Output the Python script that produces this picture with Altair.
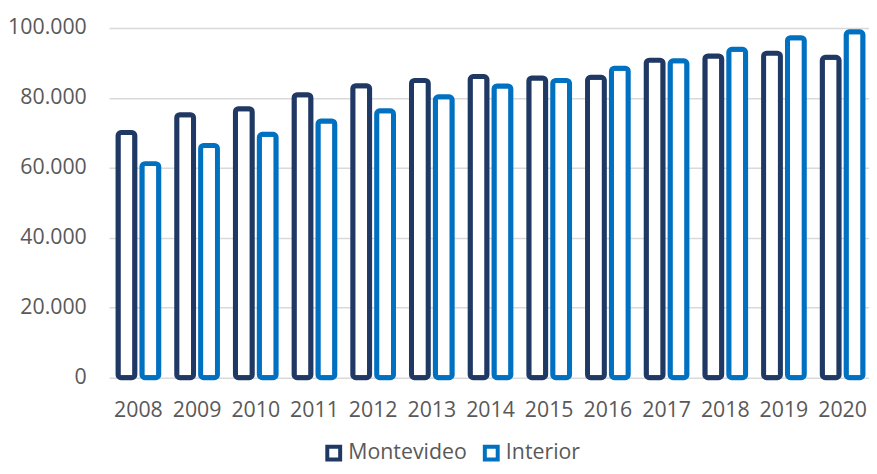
import altair as alt
import pandas as pd

years = [str(y) for y in range(2008, 2021)]
montevideo = [70100, 75200, 76900, 80900, 83500, 85000, 86100, 85700, 85900, 90800, 92000, 92800, 91600]
interior = [61200, 66400, 69600, 73400, 76300, 80300, 83400, 85000, 88500, 90600, 93900, 97200, 98900]
series = ["Montevideo", "Interior"]
colors = ["#1F3864", "#0070C0"]

rows = []
for i, y in enumerate(years):
    rows.append({"year": y, "serie": "Montevideo", "value": montevideo[i]})
    rows.append({"year": y, "serie": "Interior", "value": interior[i]})
df = pd.DataFrame(rows)

FONT = "Open Sans"
TXT = "#595959"
FS = 21.5

chart = alt.Chart(df).mark_bar(
    fill="white", strokeWidth=5, cornerRadius=3, width=17
).encode(
    x=alt.X("year:N", sort=years, title=None,
            scale=alt.Scale(range=[0, 770], paddingInner=0.186, paddingOuter=0.093),
            axis=alt.Axis(labelAngle=0, domain=False, ticks=False, labelPadding=22,
                          labelFontSize=FS, labelColor=TXT, labelFont=FONT)),
    xOffset=alt.XOffset("serie:N", sort=series, scale=alt.Scale(paddingInner=0, paddingOuter=0)),
    y=alt.Y("value:Q", title=None,
            scale=alt.Scale(domain=[0, 100000], nice=False),
            axis=alt.Axis(values=[0, 20000, 40000, 60000, 80000, 100000],
                          labelExpr="replace(format(datum.value, ','), ',', '.')",
                          domain=False, ticks=False, labelPadding=23,
                          labelFontSize=FS, labelColor=TXT, labelFont=FONT,
                          gridColor="#D9D9D9", gridWidth=1.5)),
    stroke=alt.Stroke("serie:N", sort=series,
                      scale=alt.Scale(domain=series, range=colors),
                      legend=alt.Legend(title=None, orient="none", direction="horizontal",
                                        legendX=216, legendY=418,
                                        symbolType="square", symbolSize=169,
                                        symbolFillColor="white", symbolStrokeWidth=4,
                                        labelFontSize=FS, labelColor=TXT, labelFont=FONT,
                                        labelOffset=4, columnPadding=9, padding=0)),
).properties(
    width=767, height=353,
    autosize=alt.AutoSizeParams(type="none"),
    padding={"left": 102, "top": 18, "right": 0, "bottom": 87},
).configure_view(stroke=None)

chart.save("out.html", embed_options={"renderer": "svg", "actions": False})
